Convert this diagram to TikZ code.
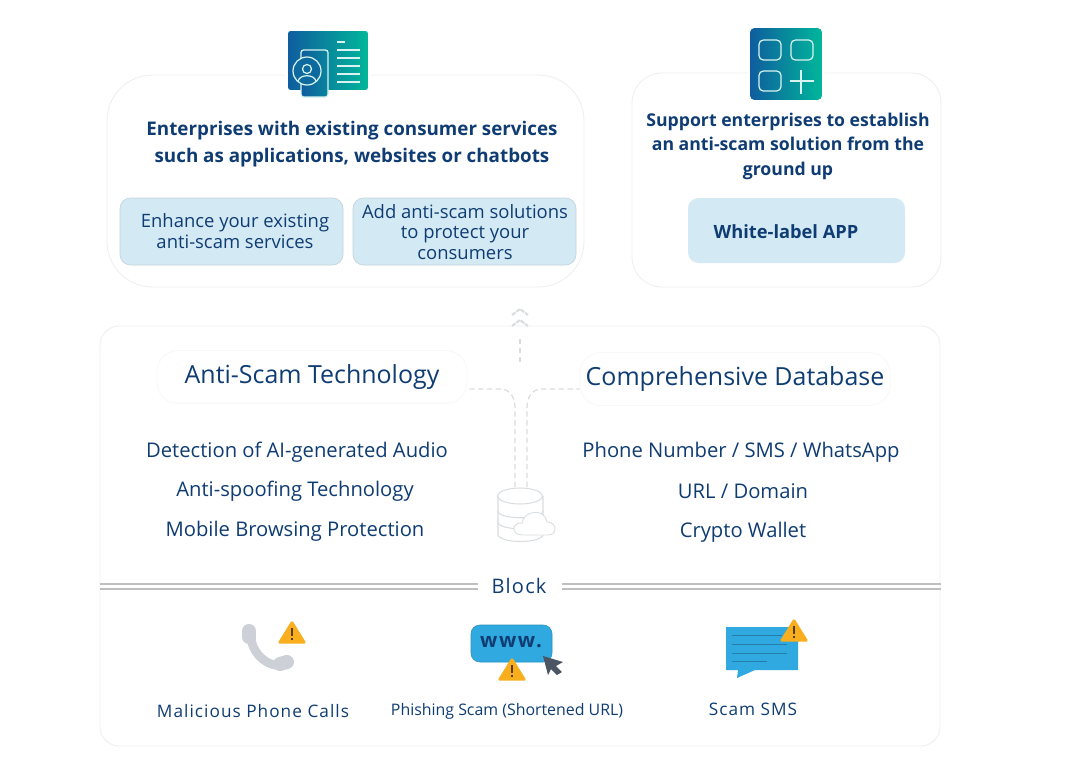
\documentclass[tikz,border=0pt]{standalone}
\usepackage{fontspec}
\setmainfont{Open Sans}
\usepackage{tikz}
\tikzset{>=latex}
\usetikzlibrary{calc,positioning,shapes.geometric}
\definecolor{inkblue}{HTML}{0F3D73}
\definecolor{paleline}{HTML}{EEEFF2}
\definecolor{dashgray}{HTML}{DADDE0}
\definecolor{paleblue}{HTML}{D3E9F4}
\definecolor{skyblue}{HTML}{2FA9DF}
\definecolor{warnamber}{HTML}{F9AE1E}
\definecolor{phonegray}{HTML}{CDD1D7}
\definecolor{cursorgray}{HTML}{4B5563}
\definecolor{gradleft}{HTML}{0F5C9E}
\definecolor{gradright}{HTML}{00B89B}
\tikzset{
    panel/.style={draw=paleline, line width=0.5pt, fill=white},
    tilebox/.style={draw=none, fill=paleblue, rounded corners=6pt},
    headtext/.style={text=inkblue, align=center, font=\fontsize{10.4}{15.2}\selectfont\bfseries},
    tiletext/.style={text=inkblue, align=center, font=\fontsize{10.5}{11.9}\selectfont},
    titletext/.style={text=inkblue, align=center, font=\fontsize{14.2}{16}\selectfont, draw=paleline!50!white, rounded corners=12pt, minimum height=1.06cm, minimum width=6.2cm},
    listtext/.style={text=inkblue, align=center, font=\fontsize{11.5}{13}\selectfont},
    captext/.style={text=inkblue, align=center, font=\fontsize{9.8}{12}\selectfont\addfontfeature{LetterSpace=6}},
    flowline/.style={draw=dashgray, line width=0.7pt, dashed, dash pattern=on 3pt off 2pt},
    iconline/.style={draw=white!85!gradright, line width=0.7pt, rounded corners=1.5pt},
}
\begin{document}
\begin{tikzpicture}[x=0.02cm,y=-0.02cm]
            \useasboundingbox (0,0) rectangle (1066,768);

            % upper panels
            \draw[panel, rounded corners=26pt] (107,75) rectangle (584,287);
            \draw[panel, rounded corners=17pt] (632,73) rectangle (941,287);
            \draw[panel, rounded corners=11pt] (100,326) rectangle (940,746);

            % left icon
            \draw[white, line width=1pt, left color=gradleft, right color=gradright, rounded corners=2pt] (287,30) rectangle (369,91);
            \draw[iconline, left color=gradleft, right color=gradleft!55!gradright] (301,50) rectangle (328,97);
            \draw[iconline, fill=gradleft!85!gradright] (307,71) circle (14);
            \draw[iconline] (307,69) circle (4.5);
            \draw[iconline] (298,81) .. controls (300,74) and (314,74) .. (316,81);
            \draw[iconline] (337,42) -- ++(8,0);
            \foreach \i in {50,58,66,74,82}
            {
            \draw[iconline] (337,\i) -- ++(23,0);
            }

            % right icon
            \draw[white, line width=1pt, left color=gradleft, right color=gradright, rounded corners=3pt] (749,27) rectangle (823,101);
            \foreach \i/\j in {759/40,791/40,759/71}
            {
            \draw[iconline, rounded corners=2.5pt] (\i,\j) rectangle ++(22,20);
            }
            \draw[iconline] (790,81) -- ++(24,0);
            \draw[iconline] (801,70) -- ++(0,24);

            \node[headtext, font=\fontsize{10.7}{15.2}\selectfont\bfseries] (enterhead) at (352,144) {Enterprises with existing consumer services\\such as applications, websites or chatbots};
            \node[headtext, font=\fontsize{10.05}{13.9}\selectfont\bfseries] (supporthead) at (788,146) {Support enterprises to establish\\an anti-scam solution from the\\ground up};

            \draw[tilebox, draw=paleblue!80!gray, line width=0.4pt] (120,198) rectangle (343,265);
            \draw[tilebox, draw=paleblue!80!gray, line width=0.4pt] (353,198) rectangle (576,265);
            \draw[tilebox] (688,198) rectangle (905,263);
            \node[tiletext] (enhance) at (235,231) {Enhance your existing\\anti-scam services};
            \node[tiletext] (addsol) at (465,232) {Add anti-scam solutions\\to protect your\\consumers};
            \node[headtext] (whitelabel) at (786,232) {White-label APP};

            % middle panel
            \node[titletext] (techtitle) at (312,377) {Anti-Scam Technology};
            \node[titletext] (datatitle) at (735,379) {Comprehensive Database};

            \node[listtext] (techa) at (297,452) {Detection of AI-generated Audio};
            \node[listtext] (techb) at (295,491) {Anti-spoofing Technology};
            \node[listtext] (techc) at (295,531) {Mobile Browsing Protection};
            \node[listtext] (dataa) at (741,452) {Phone Number / SMS / WhatsApp};
            \node[listtext] (datab) at (743,491) {URL / Domain};
            \node[listtext] (datac) at (743,532) {Crypto Wallet};

            % database with cloud
            \coordinate (dbleft) at (515,487);
            \coordinate (dbright) at (527,487);
            \coordinate (flowtop) at (520,336);
            \draw[flowline] (dbleft) -- (515,408) .. controls (515,397) and (510,389) .. (500,389) -- (techtitle.east |- 0,389);
            \draw[flowline] (dbright) -- (527,408) .. controls (527,397) and (532,389) .. (542,389) -- (datatitle.west |- 0,389);
            \draw[flowline] (520,362) -- (flowtop);
            \foreach \i in {312,323}
            {
            \draw[dashgray, line width=1.2pt, dashed, dash pattern=on 2.5pt off 0.6pt] (512,\i+3) -- (520,\i-3) -- (528,\i+3);
            }
            \draw[dashgray, line width=0.6pt, fill=white] (498,496) -- (498,534) .. controls (498,544) and (543,544) .. (543,534) -- (543,496);
            \draw[dashgray, line width=0.6pt, fill=white] (520,496) ellipse (22.5 and 8);
            \foreach \i in {511,522}
            {
            \draw[dashgray, line width=0.6pt] (498,\i) .. controls (498,\i+9) and (543,\i+9) .. (543,\i);
            }
            \draw[dashgray, line width=0.5pt, fill=white] (523,535) .. controls (510,535) and (512,522) .. (522,523) .. controls (524,510) and (545,508) .. (547,522) .. controls (557,522) and (558,535) .. (548,535) -- cycle;

            % block divider
            \node[text=inkblue, font=\fontsize{11.4}{13}\selectfont\addfontfeature{LetterSpace=6}] (blocklabel) at (519,586) {Block};
            \foreach \i in {584,589}
            {
            \draw[black!25, line width=0.6pt] (100,\i) -- (478,\i);
            \draw[black!25, line width=0.6pt] (562,\i) -- (941,\i);
            }

            % phone
            \draw[phonegray, line width=5pt, line cap=round] (251,636) .. controls (251,652) and (267,668) .. (283,665);
            \draw[phonegray, line width=8pt, line cap=round] (249,631) -- (249,637);
            \draw[phonegray, line width=8pt, line cap=round] (280,664) -- (287,662);

            % www box
            \draw[skyblue!85!black, fill=skyblue, rounded corners=5pt, line width=0.3pt] (471,625) rectangle (552,662);
            \node[text=inkblue, font=\fontsize{11.5}{13}\selectfont\bfseries\addfontfeature{LetterSpace=8}] (wwwtext) at (511,642) {www.};
            \fill[cursorgray] (543,656) -- (563,662) -- (556,666) -- (562,672) -- (557,675) -- (551,669) -- (548,675) -- cycle;

            % sms bubble
            \fill[skyblue] (726,627) -- (798,627) -- (798,670) -- (755,670) -- (737,678) -- (738,670) -- (726,670) -- cycle;
            \foreach \i/\j in {635/782,644/787,653/787,661/767}
            {
            \draw[skyblue!75!black, line width=0.4pt] (732,\i) -- (\j,\i);
            }

            % warning signs
            \foreach \i/\j in {292/620,512/657,794/618}
            {
            \fill[warnamber, rounded corners=1pt] (\i,\j) -- (\i+14.5,\j+23.5) -- (\i-14.5,\j+23.5) -- cycle;
            \draw[black!65!warnamber, line width=1pt] (\i,\j+8) -- (\i,\j+16);
            \draw[black!65!warnamber, line width=1pt] (\i,\j+17.5) -- (\i,\j+19.5);
            }

            \node[captext] (phonecap) at (253,711) {Malicious Phone Calls};
            \node[captext, font=\fontsize{9.05}{12}\selectfont] (phishcap) at (507,711.5) {Phishing Scam (Shortened URL)};
            \node[captext] (smscap) at (753,709) {Scam SMS};

            \end{tikzpicture}
\end{document}
